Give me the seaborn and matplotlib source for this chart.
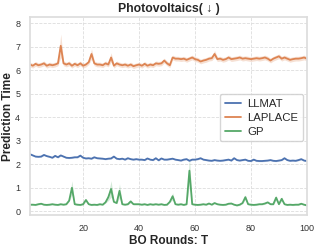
import numpy as np
import pandas as pd
import seaborn as sns
import matplotlib.pyplot as plt

# BO rounds 1..100
rounds = list(range(1, 101))

llmat = [2.43, 2.38, 2.33, 2.32, 2.33, 2.40, 2.35, 2.32, 2.28, 2.36,
         2.30, 2.38, 2.33, 2.28, 2.27, 2.28, 2.30, 2.30, 2.37, 2.28,
         2.25, 2.26, 2.24, 2.30, 2.26, 2.25, 2.24, 2.22, 2.24, 2.25,
         2.33, 2.24, 2.22, 2.24, 2.20, 2.26, 2.22, 2.20, 2.22, 2.20,
         2.20, 2.18, 2.25, 2.20, 2.18, 2.26, 2.17, 2.25, 2.20, 2.20,
         2.22, 2.24, 2.20, 2.18, 2.16, 2.20, 2.22, 2.15, 2.20, 2.20,
         2.22, 2.26, 2.20, 2.18, 2.16, 2.15, 2.18, 2.16, 2.15, 2.16,
         2.18, 2.20, 2.16, 2.26, 2.18, 2.16, 2.18, 2.20, 2.15, 2.14,
         2.20, 2.15, 2.14, 2.14, 2.15, 2.16, 2.18, 2.15, 2.14, 2.16,
         2.18, 2.26, 2.18, 2.15, 2.16, 2.15, 2.18, 2.22, 2.16, 2.14]

laplace = [6.25, 6.20, 6.28, 6.22, 6.25, 6.30, 6.20, 6.25, 6.22, 6.25,
           6.30, 7.05, 6.30, 6.25, 6.30, 6.20, 6.28, 6.22, 6.30, 6.20,
           6.25, 6.35, 6.70, 6.30, 6.25, 6.25, 6.22, 6.30, 6.25, 6.55,
           6.20, 6.30, 6.25, 6.22, 6.25, 6.20, 6.25, 6.18, 6.22, 6.25,
           6.20, 6.28, 6.20, 6.25, 6.22, 6.30, 6.28, 6.30, 6.42, 6.30,
           6.22, 6.55, 6.50, 6.50, 6.48, 6.50, 6.45, 6.50, 6.55, 6.48,
           6.45, 6.38, 6.42, 6.45, 6.50, 6.52, 6.70, 6.48, 6.50, 6.45,
           6.48, 6.55, 6.48, 6.50, 6.52, 6.55, 6.50, 6.52, 6.50, 6.48,
           6.50, 6.52, 6.50, 6.52, 6.55, 6.50, 6.42, 6.50, 6.55, 6.60,
           6.50, 6.55, 6.50, 6.45, 6.48, 6.50, 6.50, 6.52, 6.55, 6.50]

gp = [0.28, 0.28, 0.27, 0.30, 0.32, 0.28, 0.27, 0.28, 0.30, 0.28,
      0.27, 0.30, 0.28, 0.30, 0.45, 1.00, 0.30, 0.28, 0.27, 0.30,
      0.48, 0.30, 0.27, 0.28, 0.27, 0.30, 0.28, 0.38, 0.60, 0.95,
      0.40, 0.35, 0.87, 0.30, 0.28, 0.30, 0.42, 0.30, 0.30, 0.30,
      0.28, 0.30, 0.27, 0.30, 0.28, 0.30, 0.28, 0.30, 0.27, 0.28,
      0.40, 0.64, 0.30, 0.28, 0.30, 0.27, 0.30, 1.73, 0.30, 0.28,
      0.27, 0.28, 0.30, 0.28, 0.33, 0.28, 0.35, 0.30, 0.28, 0.27,
      0.28, 0.32, 0.33, 0.28, 0.25, 0.28, 0.35, 0.60, 0.30, 0.28,
      0.27, 0.28, 0.30, 0.30, 0.33, 0.38, 0.30, 0.30, 0.58, 0.30,
      0.53, 0.30, 0.27, 0.28, 0.27, 0.28, 0.28, 0.32, 0.28, 0.25]

# half-width of the shaded band
llmat_band = [0.03] * 100
laplace_band = [0.10] * 100
laplace_band[11] = 0.50
laplace_band[22] = 0.22
laplace_band[29] = 0.20
laplace_band[66] = 0.15
gp_band = [0.03] * 100
for i, w in {15: 0.30, 20: 0.06, 28: 0.15, 29: 0.35, 32: 0.30, 36: 0.06,
             51: 0.15, 57: 0.60, 77: 0.10, 88: 0.10, 90: 0.08}.items():
    gp_band[i] = w

series = {'LLMAT': (llmat, llmat_band), 'LAPLACE': (laplace, laplace_band), 'GP': (gp, gp_band)}

sns.set_theme(style='whitegrid')
plt.rcParams['font.family'] = ['Liberation Sans', 'DejaVu Sans']

fig, ax = plt.subplots(figsize=(3.19, 2.48), dpi=100)
palette = sns.color_palette('deep')

for i, (name, (vals, band)) in enumerate(series.items()):
    df = pd.DataFrame({'T': rounds, 'val': vals})
    sns.lineplot(data=df, x='T', y='val', ax=ax, color=palette[i], lw=1.3, label=name)
    lo = np.array(vals) - np.array(band)
    hi = np.array(vals) + np.array(band)
    ax.fill_between(rounds, lo, hi, color=palette[i], alpha=0.25, lw=0)

ax.set_xlim(1, 100)
ax.set_ylim(-0.15, 8.26)
ax.set_xticks([20, 40, 60, 80, 100])
ax.set_yticks(range(0, 9))
ax.tick_params(axis='both', labelsize=6.5, pad=1, labelcolor='#333333')
ax.grid(True, linestyle='--', linewidth=0.6, color='#dddddd')
for sp in ax.spines.values():
    sp.set_color('#dddddd')

ax.set_title('Photovoltaics( ↓ )', fontsize=8.8, fontweight='bold', pad=4)
ax.set_xlabel('BO Rounds: T', fontsize=8.5, fontweight='bold', labelpad=1)
ax.set_ylabel('Prediction Time', fontsize=8.6, fontweight='bold', labelpad=1)

ax.legend(loc='upper right', bbox_to_anchor=(0.986, 0.611), borderaxespad=0,
          fontsize=8.2, frameon=True, handlelength=1.4, handletextpad=0.6,
          borderpad=0.4, labelspacing=0.35)

plt.subplots_adjust(left=0.094, right=0.962, top=0.930, bottom=0.134)
plt.savefig('out.png', dpi=100)
